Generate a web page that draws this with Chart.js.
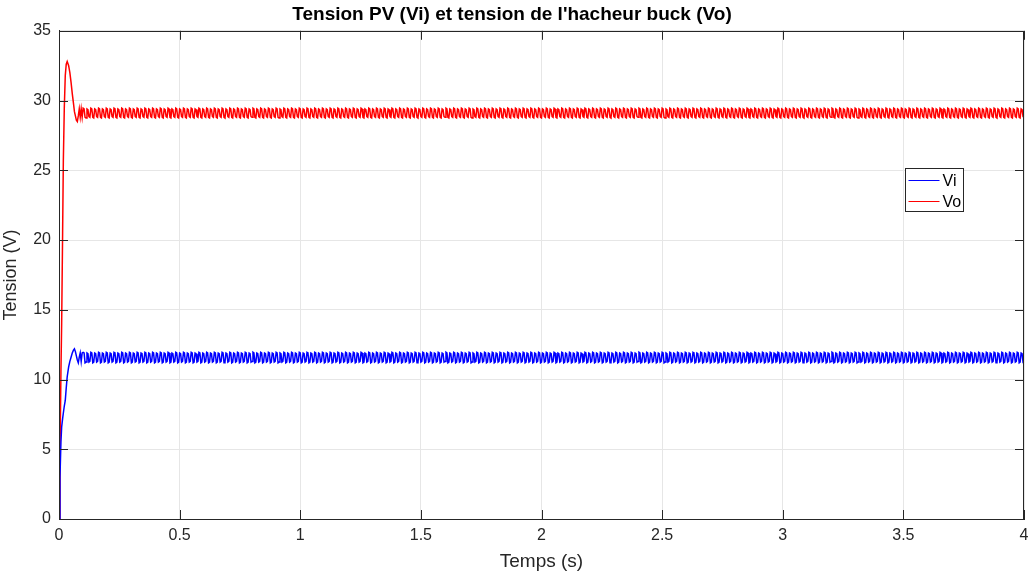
<!DOCTYPE html>
<html>
<head>
<meta charset="utf-8">
<script src="https://cdn.jsdelivr.net/npm/chart.js@4.4.0/dist/chart.umd.min.js"></script>
<style>
html,body{margin:0;padding:0;background:#fff;}
#wrap{width:1028px;height:576px;}
</style>
</head>
<body>
<div id="wrap"><canvas id="myChart" width="1028" height="576"></canvas></div>
<script>
// regime transitoire
var tTrans  = [0, 0.004, 0.008, 0.011, 0.015, 0.018, 0.022, 0.026, 0.030, 0.034, 0.040, 0.045, 0.050, 0.055, 0.060, 0.064, 0.068, 0.072, 0.076, 0.080, 0.084, 0.088, 0.092, 0.096];
var viTrans = [0, 3.0, 5.5, 6.6, 7.2, 7.6, 8.1, 8.5, 9.4, 10.2, 10.9, 11.3, 11.6, 11.9, 12.1, 12.2, 12.0, 11.7, 11.4, 11.2, 11.6, 11.9, 11.3, 11.9];
var voTrans = [0, 4.5, 10.5, 14.0, 20.5, 25.7, 29.5, 31.8, 32.6, 32.8, 32.5, 32.0, 31.3, 30.5, 29.8, 29.2, 28.9, 28.6, 28.5, 28.9, 29.4, 28.8, 29.4, 28.8];

// ondulation en regime permanent (motif d'une periode de decoupage)
var viRipple = [11.95, 11.9, 11.2, 11.25, 11.9, 11.85, 11.25, 11.3];
var voRipple = [29.45, 29.4, 28.8, 28.75, 29.4, 29.35, 28.85, 28.8];
var tStart = 0.1, tEnd = 4, tStep = 0.004;

var xTicks = [0, 0.5, 1, 1.5, 2, 2.5, 3, 3.5, 4];
var yTicks = [0, 5, 10, 15, 20, 25, 30, 35];

var viData = [], voData = [];
for (var i = 0; i < tTrans.length; i++) {
    viData.push({x: tTrans[i], y: viTrans[i]});
    voData.push({x: tTrans[i], y: voTrans[i]});
}
var n = Math.round((tEnd - tStart) / tStep);
for (var k = 0; k <= n; k++) {
    var t = tStart + k * tStep;
    viData.push({x: t, y: viRipple[k % viRipple.length]});
    voData.push({x: t, y: voRipple[k % voRipple.length]});
}

var fontFam = "'Liberation Sans', Arial, Helvetica, sans-serif";

// cadre, graduations internes et legende facon MATLAB
var matlabBox = {
    id: 'matlabBox',
    afterDraw: function(chart) {
        var c = chart.ctx, a = chart.chartArea;
        var sx = chart.scales.x, sy = chart.scales.y;
        var len = 9;
        c.save();
        c.strokeStyle = '#262626';
        c.lineWidth = 1;
        c.beginPath();
        xTicks.forEach(function(v) {
            var px = Math.round(sx.getPixelForValue(v)) + 0.5;
            c.moveTo(px, a.bottom); c.lineTo(px, a.bottom - len);
            c.moveTo(px, a.top); c.lineTo(px, a.top + len);
        });
        yTicks.forEach(function(v) {
            var py = Math.round(sy.getPixelForValue(v)) + 0.5;
            c.moveTo(a.left, py); c.lineTo(a.left + len, py);
            c.moveTo(a.right, py); c.lineTo(a.right - len, py);
        });
        c.stroke();
        c.strokeRect(Math.round(a.left) + 0.5, Math.round(a.top) + 0.5, Math.round(a.right - a.left) - 1, Math.round(a.bottom - a.top));

        // legende
        var bx = Math.round(a.right) - 119 + 0.5, by = Math.round(a.top) + 137 + 0.5;
        var bw = 58, bh = 43;
        c.fillStyle = '#fff';
        c.fillRect(bx, by, bw, bh);
        c.strokeStyle = '#262626';
        c.strokeRect(bx, by, bw, bh);
        c.font = '16px ' + fontFam;
        c.textBaseline = 'middle';
        chart.data.datasets.forEach(function(ds, j) {
            var ly = by + 12 + j * 21;
            c.strokeStyle = ds.borderColor;
            c.lineWidth = 1;
            c.beginPath();
            c.moveTo(bx + 3, ly); c.lineTo(bx + 34, ly);
            c.stroke();
            c.fillStyle = '#000';
            c.fillText(ds.label, bx + 37, ly + 1);
        });
        c.restore();
    }
};

function tickLabel(v) { return String(v); }

var ctx = document.getElementById('myChart').getContext('2d');
var myChart = new Chart(ctx, {
    type: 'line',
    data: {
        datasets: [{
            label: 'Vi',
            data: viData,
            borderColor: '#0000ff',
            borderWidth: 1.5,
            pointRadius: 0,
            tension: 0
        }, {
            label: 'Vo',
            data: voData,
            borderColor: '#ff0000',
            borderWidth: 1.5,
            pointRadius: 0,
            tension: 0
        }]
    },
    options: {
        responsive: false,
        animation: false,
        devicePixelRatio: 1,
        layout: {padding: {left: 0, right: 4, top: 0, bottom: 0}},
        plugins: {
            legend: {display: false},
            tooltip: {enabled: false},
            title: {
                display: true,
                text: "Tension PV (Vi) et tension de l'hacheur buck (Vo)",
                color: '#000',
                font: {family: fontFam, size: 19, weight: 'bold'},
                padding: {top: 3, bottom: 5}
            }
        },
        scales: {
            x: {
                type: 'linear',
                min: 0,
                max: 4,
                afterBuildTicks: function(s) { s.ticks = xTicks.map(function(v) { return {value: v}; }); },
                ticks: {color: '#262626', font: {family: fontFam, size: 16}, padding: 7, maxRotation: 0, callback: tickLabel},
                grid: {color: '#e6e6e6', drawTicks: false},
                border: {color: '#262626'},
                title: {display: true, text: 'Temps (s)', color: '#262626', font: {family: fontFam, size: 19}, padding: {top: 0, bottom: 3}},
                afterFit: function(s) { s.height = 57; s.paddingLeft = 0; s.paddingRight = 0; }
            },
            y: {
                min: 0,
                max: 35,
                afterBuildTicks: function(s) { s.ticks = yTicks.map(function(v) { return {value: v}; }); },
                ticks: {color: '#262626', font: {family: fontFam, size: 16}, padding: 8, callback: tickLabel},
                grid: {color: '#e6e6e6', drawTicks: false},
                border: {color: '#262626'},
                title: {display: true, text: 'Tension (V)', color: '#262626', font: {family: fontFam, size: 18}, padding: {top: 0, bottom: 2}},
                afterFit: function(s) { s.width = 59; s.paddingTop = 0; s.paddingBottom = 0; }
            }
        }
    },
    plugins: [matlabBox]
});
</script>
</body>
</html>
